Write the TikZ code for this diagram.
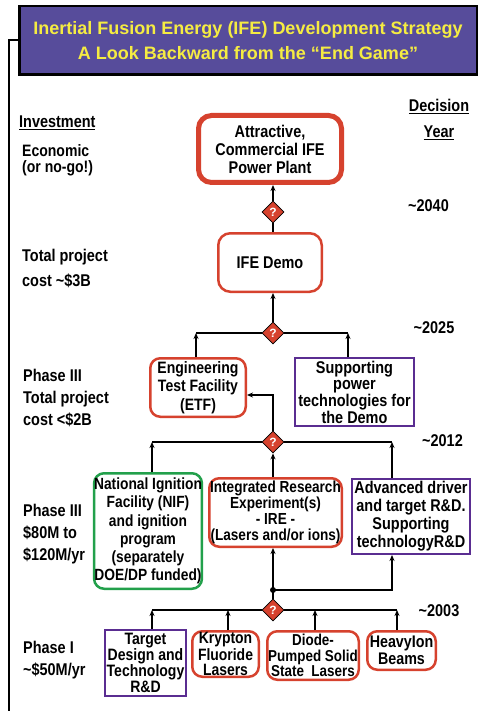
\documentclass[tikz,border=0pt]{standalone}
\usepackage{fontspec}
\newfontfamily\tfont{Liberation Sans}
\newfontfamily\nfont[FakeStretch=0.85]{Liberation Sans}
\usetikzlibrary{arrows.meta,shapes.geometric}
\definecolor{ttlpurple}{RGB}{87,76,155}
\definecolor{ttlyellow}{RGB}{245,236,66}
\definecolor{boxred}{RGB}{214,66,46}
\definecolor{boxgreen}{RGB}{34,160,75}
\definecolor{boxpurple}{RGB}{90,45,145}
\newcommand{\fs}[2]{\nfont\bfseries\fontsize{#1}{#2}\selectfont}
\begin{document}
\begin{tikzpicture}[x=1pt,y=-1pt,
  conn/.style={line width=1.3pt, draw=black},
  arr/.style={conn, -{Stealth[length=6pt,width=5pt]}},
  box/.style={inner sep=0pt, align=center, fill=white},
  redbox/.style={box, draw=boxred, line width=2.5pt, rounded corners=10pt},
  grnbox/.style={box, draw=boxgreen, line width=2.5pt, rounded corners=10pt},
  purbox/.style={box, draw=boxpurple, line width=2pt},
  diam/.style={diamond, draw=black, line width=0.8pt, fill=boxred, aspect=1, inner sep=0pt,
    minimum width=22pt, minimum height=22pt, text=white, font=\tfont\bfseries\fontsize{12}{12}\selectfont},
  lab/.style={anchor=base west, align=left, inner sep=0pt},
  yr/.style={anchor=base, inner sep=0pt, font=\fs{17}{20}}
]
\useasboundingbox (0,0) rectangle (479,711);

% title
\node[draw=black, line width=2.5pt, fill=ttlpurple, minimum width=457.5pt, minimum height=68.5pt,
  inner sep=0pt, align=center, text=ttlyellow, font=\tfont\bfseries\fontsize{18}{25}\selectfont]
  (title) at (248,40.5) {Inertial Fusion Energy (IFE) Development Strategy\\A Look Backward from the “End Game”};
\coordinate (frame) at (9,712);
\draw[line width=2pt] (frame) |- (title.west);

% left labels (base = baseline of last line)
\node[lab, font=\fs{17}{20}] (inv) at (19,127.5) {\underline{Investment}};
\node[lab, font=\fs{16.5}{16}] (econ) at (22,173) {Economic\\(or no-go!)};
\node[lab, font=\fs{17}{25}] (tp3) at (22,286.7) {Total project\\cost \textasciitilde\$3B};
\node[lab, font=\fs{17}{21.7}] (ph3a) at (23,425) {Phase III\\Total project\\cost <\$2B};
\node[lab, font=\fs{17}{21.7}] (ph3b) at (23,560) {Phase III\\\$80M to\\\$120M/yr};
\node[lab, font=\fs{17}{21.7}] (ph1) at (23,675) {Phase I\\\textasciitilde\$50M/yr};

% right labels
\node[anchor=base, align=center, inner sep=0pt, font=\fs{17}{25.6}] (dec) at (439,137.3) {\underline{Decision}\\\underline{Year}};
\node[yr] (y2040) at (428.5,211.7) {\textasciitilde2040};
\node[yr] (y2025) at (434,333) {\textasciitilde2025};
\node[yr] (y2012) at (442.5,446) {\textasciitilde2012};
\node[yr] (y2003) at (439,616) {\textasciitilde2003};

% boxes
\node[redbox, line width=5pt, rounded corners=13pt, minimum width=143pt, minimum height=67pt, font=\fs{17}{18}]
  (plant) at (270,149) {Attractive,\\Commercial IFE\\Power Plant};
\node[redbox, rounded corners=12pt, minimum width=103.5pt, minimum height=58.5pt, font=\fs{17}{18}]
  (demo) at (270,262.5) {IFE Demo};
\node[redbox, minimum width=95.5pt, minimum height=58.5pt, font=\fs{16.5}{18.5}]
  (etf) at (198,387.5) {Engineering\\Test Facility\\(ETF)};
\node[purbox, minimum width=119pt, minimum height=68pt, font=\fs{17}{16.7}]
  (supp) at (354.5,392) {Supporting\\power\\technologies for\\the Demo};
\node[grnbox, minimum width=107.5pt, minimum height=115.5pt, font=\fs{16.2}{18.2}]
  (nif) at (148,531) {National Ignition\\Facility (NIF)\\and ignition\\program\\(separately\\DOE/DP funded)};
\node[redbox, minimum width=132.5pt, minimum height=68.5pt, font=\fs{16}{16}]
  (ire) at (275.5,512.5) {Integrated Research\\Experiment(s)\\- IRE -\\(Lasers and/or ions)};
\node[purbox, minimum width=118pt, minimum height=75pt, font=\fs{17}{18}]
  (adv) at (411,516.5) {Advanced driver\\and target R\&D.\\Supporting\\technologyR\&D};
\node[purbox, minimum width=81pt, minimum height=66pt, font=\fs{16.5}{16}]
  (tgt) at (145.5,663) {Target\\Design and\\Technology\\R\&D};
\node[redbox, minimum width=66.5pt, minimum height=45.5pt, font=\fs{16.4}{15}]
  (kr) at (225.5,654) {Krypton\\Fluoride\\Lasers};
\node[redbox, minimum width=91.5pt, minimum height=48.5pt, font=\fs{15.8}{15.5}]
  (dp) at (313,655.5) {Diode-\\Pumped Solid\\State~ Lasers};
\node[redbox, minimum width=68.5pt, minimum height=38.5pt, font=\fs{16.8}{17}]
  (hi) at (401.5,650.5) {HeavyIon\\Beams};

% decision diamonds
\node[diam] (d1) at (273,212) {?};
\node[diam] (d2) at (273,333) {?};
\node[diam] (d3) at (273,442) {?};
\node[diam] (d4) at (273,610) {?};
\coordinate (j) at (273,590);

% connectors
\draw[arr] (d1.north) -- (d1.north |- plant.south);
\draw[conn] (d1.south) -- (d1.south |- demo.north);
\draw[arr] (d2.north) -- (d2.north |- demo.south);

\draw[conn] ([xshift=-2pt]etf.north |- d2) -- (d2.west);
\draw[conn] (d2.east) -- ([xshift=-6.5pt]supp.north |- d2);
\draw[arr] ([xshift=-2pt]etf.north) -- ([xshift=-2pt]etf.north |- d2);
\draw[arr] ([xshift=-6.5pt]supp.north) -- ([xshift=-6.5pt]supp.north |- d2);
\draw[arr] (d3.north) |- ([yshift=-7.5pt]etf.east);

\draw[conn] ([xshift=4pt]nif.north |- d3) -- (d3.west);
\draw[conn] (d3.east) -- ([xshift=-19pt]adv.north |- d3);
\draw[arr] ([xshift=4pt]nif.north) -- ([xshift=4pt]nif.north |- d3);
\draw[arr] (d3.south |- ire.north) -- (d3.south);
\draw[arr] ([xshift=-19pt]adv.north) -- ([xshift=-19pt]adv.north |- d3);

\draw[conn] (d4.north) -- (j);
\draw[arr] (j) -- (j |- ire.south);
\draw[arr] (j) -| ([xshift=-19pt]adv.south);
\fill (j) circle (3pt);

\draw[conn] ([xshift=6.5pt]tgt.north |- d4) -- (d4.west);
\draw[conn] (d4.east) -- ([xshift=-4.5pt]hi.north |- d4);
\draw[arr] ([xshift=6.5pt]tgt.north) -- ([xshift=6.5pt]tgt.north |- d4);
\draw[arr] ([xshift=2.5pt]kr.north) -- ([xshift=2.5pt]kr.north |- d4);
\draw[arr] ([xshift=2pt]dp.north) -- ([xshift=2pt]dp.north |- d4);
\draw[arr] ([xshift=-4.5pt]hi.north) -- ([xshift=-4.5pt]hi.north |- d4);
\end{tikzpicture}
\end{document}
